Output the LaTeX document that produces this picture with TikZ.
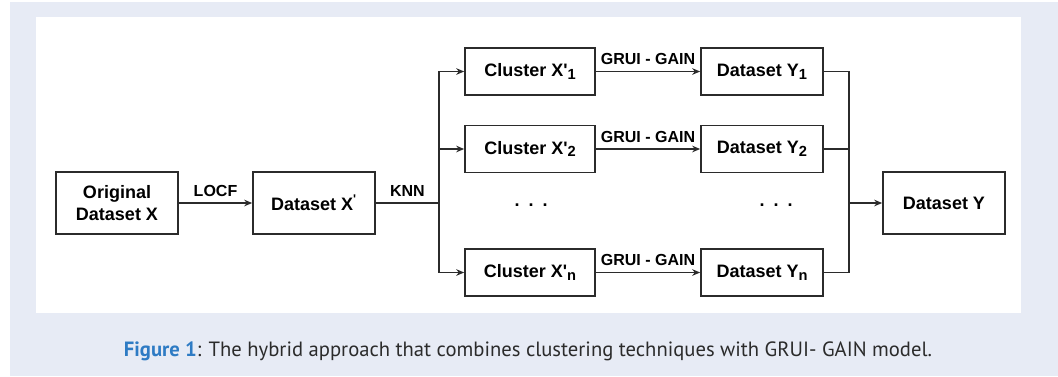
\documentclass[tikz,border=0pt]{standalone}
\usepackage{fontspec}
\setmainfont{Liberation Sans}
\newfontfamily\capfont{PT Sans}
\usetikzlibrary{arrows.meta}
\definecolor{panel}{HTML}{E7EBF5}
\definecolor{capblue}{HTML}{2E7BC4}
\definecolor{ink}{HTML}{2B2B2B}
\newcommand\sbs[1]{\raisebox{-2.2pt}{\fontsize{11}{11}\selectfont #1}}
\begin{document}
\begin{tikzpicture}[x=0.75pt,y=-0.75pt,
  box/.style={draw=ink, line width=1.3pt, minimum width=91.5pt, minimum height=46.5pt,
    inner sep=0pt, align=center, text=black, font=\bfseries\fontsize{13.5}{16.5}\selectfont},
  cbox/.style={box, minimum width=97.5pt, minimum height=35.25pt},
  ybox/.style={box, minimum width=91.5pt, minimum height=35.25pt},
  lab/.style={inner sep=0pt, text=black, font=\bfseries\fontsize{12}{12}\selectfont},
  ln/.style={draw=ink, line width=1pt},
  arr/.style={ln, -{Stealth[length=6pt,width=5pt,inset=2pt]}},
  dots/.style={text=black, font=\bfseries\fontsize{13.5}{13.5}\selectfont}]
\useasboundingbox (0,0) rectangle (1058,376);
\fill[white] (0,0) rectangle (1058,376);
\fill[panel] (10,2) rectangle (1058,376);
\fill[white] (36,17) rectangle (1021,313);

\node[box] (orig) at (117,203) {Original\\Dataset X};
\node[box] (dsx) at (314,203) {Dataset X\textsuperscript{\textquotesingle}};
\node[cbox] (c1) at (530,71.5) {Cluster X\textquotesingle\sbs{1}};
\node[cbox] (c2) at (530,149) {Cluster X\textquotesingle\sbs{2}};
\node[cbox] (cn) at (530,272.5) {Cluster X\textquotesingle\sbs{n}};
\node[ybox] (y1) at (762,71.5) {Dataset Y\sbs{1}};
\node[ybox] (y2) at (762,149) {Dataset Y\sbs{2}};
\node[ybox] (yn) at (762,272.5) {Dataset Y\sbs{n}};
\node[box] (dsy) at (944,203) {Dataset Y};
\node[dots] (dl) at (531,205) {.\enspace.\enspace.};
\node[dots] (dr) at (776,205) {.\enspace.\enspace.};

\coordinate (kj) at (439,203);
\coordinate (yj) at (849,203);

\draw[arr] (orig) -- node[lab, above=4.5pt] {LOCF} (dsx);
\draw[ln] (dsx) -- node[lab, above=4.5pt] {KNN} (kj);
\draw[arr] (kj) |- (c1);
\draw[arr] (kj) |- (c2);
\draw[arr] (kj) |- (cn);
\draw[arr] (c1) -- node[lab, above=4.3pt] {GRUI - GAIN} (y1);
\draw[arr] (c2) -- node[lab, above=4.3pt] {GRUI - GAIN} (y2);
\draw[arr] (cn) -- node[lab, above=4.3pt] {GRUI - GAIN} (yn);
\draw[ln] (y1) -| (yj);
\draw[ln] (y2) -| (yj);
\draw[ln] (yn) -| (yj);
\draw[arr] (yj) -- (dsy);

\node[inner sep=0pt, text=ink, font=\capfont\fontsize{14}{16}\selectfont] (cap) at (528,351)
  {\resizebox{606pt}{!}{{\bfseries\color{capblue}Figure 1}: The hybrid approach that combines clustering techniques with GRUI- GAIN model.}};
\end{tikzpicture}
\end{document}
